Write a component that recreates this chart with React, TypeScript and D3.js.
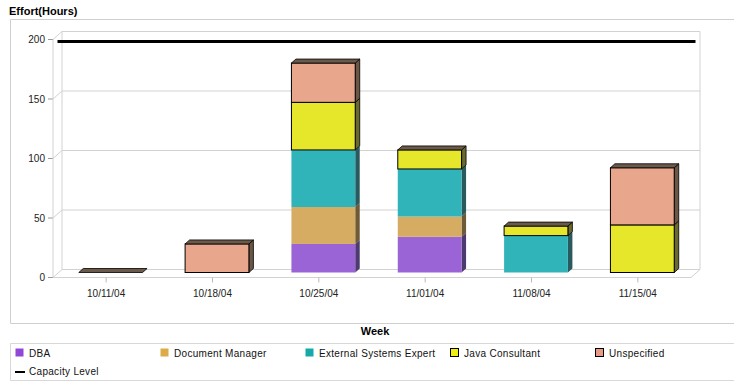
import React from "react";
import * as d3 from "d3";

const weeks = ["10/11/04", "10/18/04", "10/25/04", "11/01/04", "11/08/04", "11/15/04"];
const seriesNames = ["DBA", "Document Manager", "External Systems Expert", "Java Consultant", "Unspecified"];
const dba = [0, 0, 24, 30, 0, 0];
const docManager = [0, 0, 31, 17, 0, 0];
const extSystems = [0, 0, 48, 40, 31, 0];
const javaConsultant = [0, 0, 40, 16, 8, 40];
const unspecified = [0, 24, 33, 0, 0, 48];
const capacityLevel = 195;
const yTicks = [0, 50, 100, 150, 200];

const barColors = ["#9a64d6", "#d6ab62", "#30b4ba", "#e6e62a", "#e8a68c"];
const sideColors = ["#4d3a6e", "#6e5a36", "#2a5a5e", "#6a6a30", "#6c5646"];
const legendColors = ["#9146d8", "#dcaa46", "#16a9aa", "#eeee10", "#e99a82"];
const outlined = [false, false, false, true, true];

export default function App() {
  const W = 734, H = 381;
  const fx0 = 53, fx1 = 691;
  const DX = 9, DY = -8;
  const x = d3.scaleBand().domain(weeks).range([fx0, fx1]);
  const y = d3.scaleLinear().domain([0, 200]).range([277.5, 39.5]);
  const values = [dba, docManager, extSystems, javaConsultant, unspecified];
  const stackData = weeks.map((w, i) => {
    const o: any = { week: w };
    seriesNames.forEach((s, j) => (o[s] = values[j][i]));
    return o;
  });
  const stacked = d3.stack().keys(seriesNames)(stackData);
  const bw = x.bandwidth() * 0.6;
  const bdx = 4.5, bdy = -4;
  const offX = 4.5, offY = -5;
  const grid = "#d2d2d2";
  const font = "'Liberation Sans', Arial, sans-serif";

  const bars: any[] = [];
  weeks.forEach((w, i) => {
    const cx = (x(w) as number) + x.bandwidth() / 2;
    const left = cx - bw / 2 + offX;
    const right = left + bw;
    let topY = y(0) + offY;
    let topIdx = -1;
    seriesNames.forEach((s, j) => {
      const [a, b] = stacked[j][i];
      if (b - a <= 0) return;
      const y1 = y(b) + offY;
      const y0 = y(a) + offY;
      topY = y1;
      topIdx = j;
      bars.push(
        <g key={`${i}-${j}`}>
          <path
            d={`M${right},${y0} L${right + bdx},${y0 + bdy} L${right + bdx},${y1 + bdy} L${right},${y1} Z`}
            fill={sideColors[j]}
            stroke={outlined[j] ? "#000" : "none"}
            strokeWidth={0.8}
          />
          <rect
            x={left}
            y={y1}
            width={bw}
            height={y0 - y1}
            fill={barColors[j]}
            stroke={outlined[j] ? "#000" : "none"}
            strokeWidth={1}
          />
        </g>
      );
    });
    bars.push(
      <path
        key={`top-${i}`}
        d={`M${left},${topY} L${left + bdx},${topY + bdy} L${right + bdx},${topY + bdy} L${right},${topY} Z`}
        fill="#6b5a49"
        stroke="#000"
        strokeWidth={0.8}
      />
    );
  });

  const legendX = [15, 160, 305, 450, 595];

  return (
    <svg width={W} height={H} style={{ position: "absolute", left: 0, top: 0 }}>
      <rect x={0} y={0} width={W} height={H} fill="#fff" />
      <text x={9} y={15} fontFamily={font} fontSize={11} fontWeight="bold" fill="#000">
        Effort(Hours)
      </text>
      {/* outer plot box */}
      <path d={`M${W + 5},19.5 H10.5 V323.5 H${W + 5}`} fill="none" stroke="#cfcfcf" />
      {/* back wall gridlines */}
      {yTicks.map((t) => (
        <g key={t}>
          <line x1={fx0 + DX} x2={fx1 + DX} y1={y(t) + DY} y2={y(t) + DY} stroke={grid} />
          <line x1={fx0} x2={fx0 + DX} y1={y(t)} y2={y(t) + DY} stroke={grid} />
          <line x1={fx0 - 5} x2={fx0} y1={y(t)} y2={y(t)} stroke="#999" />
          <text x={45} y={y(t) + 3.5} textAnchor="end" fontFamily={font} fontSize={10} fill="#222">
            {t}
          </text>
        </g>
      ))}
      <line x1={fx0 + DX} x2={fx0 + DX} y1={y(200) + DY} y2={y(0) + DY} stroke={grid} />
      <line x1={fx1 + DX} x2={fx1 + DX} y1={y(200) + DY} y2={y(0) + DY} stroke={grid} />
      <line x1={fx0} x2={fx0} y1={y(200)} y2={y(0)} stroke={grid} />
      <line x1={fx0} x2={fx1} y1={y(0)} y2={y(0)} stroke={grid} />
      <line x1={fx1} x2={fx1 + DX} y1={y(0)} y2={y(0) + DY} stroke={grid} />
      {weeks.map((w) => {
        const cx = (x(w) as number) + x.bandwidth() / 2;
        return (
          <g key={w}>
            <line x1={cx} x2={cx} y1={y(0)} y2={y(0) + 5} stroke="#bbb" />
            <text x={cx} y={296.5} textAnchor="middle" fontFamily={font} fontSize={10} fill="#222">
              {w}
            </text>
          </g>
        );
      })}
      {bars}
      {/* capacity line */}
      <line
        x1={fx0 + DX / 2}
        x2={fx1 + DX / 2}
        y1={y(capacityLevel) + DY / 2}
        y2={y(capacityLevel) + DY / 2}
        stroke="#000"
        strokeWidth={3}
      />
      <text x={375} y={335} textAnchor="middle" fontFamily={font} fontSize={11} fontWeight="bold" fill="#000">
        Week
      </text>
      {/* legend box */}
      <path d={`M${W + 5},343.5 H10.5 V380.5 H${W + 5}`} fill="none" stroke="#d8d8d8" />
      {seriesNames.map((s, j) => (
        <g key={s}>
          <rect
            x={legendX[j] + 0.5}
            y={348.5}
            width={8}
            height={8}
            fill={legendColors[j]}
            stroke={outlined[j] ? "#000" : "none"}
          />
          <text x={legendX[j] + 14} y={357} fontFamily={font} fontSize={10} letterSpacing={0.3} fill="#111">
            {s}
          </text>
        </g>
      ))}
      <line x1={15} x2={25} y1={372} y2={372} stroke="#000" strokeWidth={2} />
      <text x={29} y={374.5} fontFamily={font} fontSize={10} letterSpacing={0.3} fill="#111">
        Capacity Level
      </text>
    </svg>
  );
}
